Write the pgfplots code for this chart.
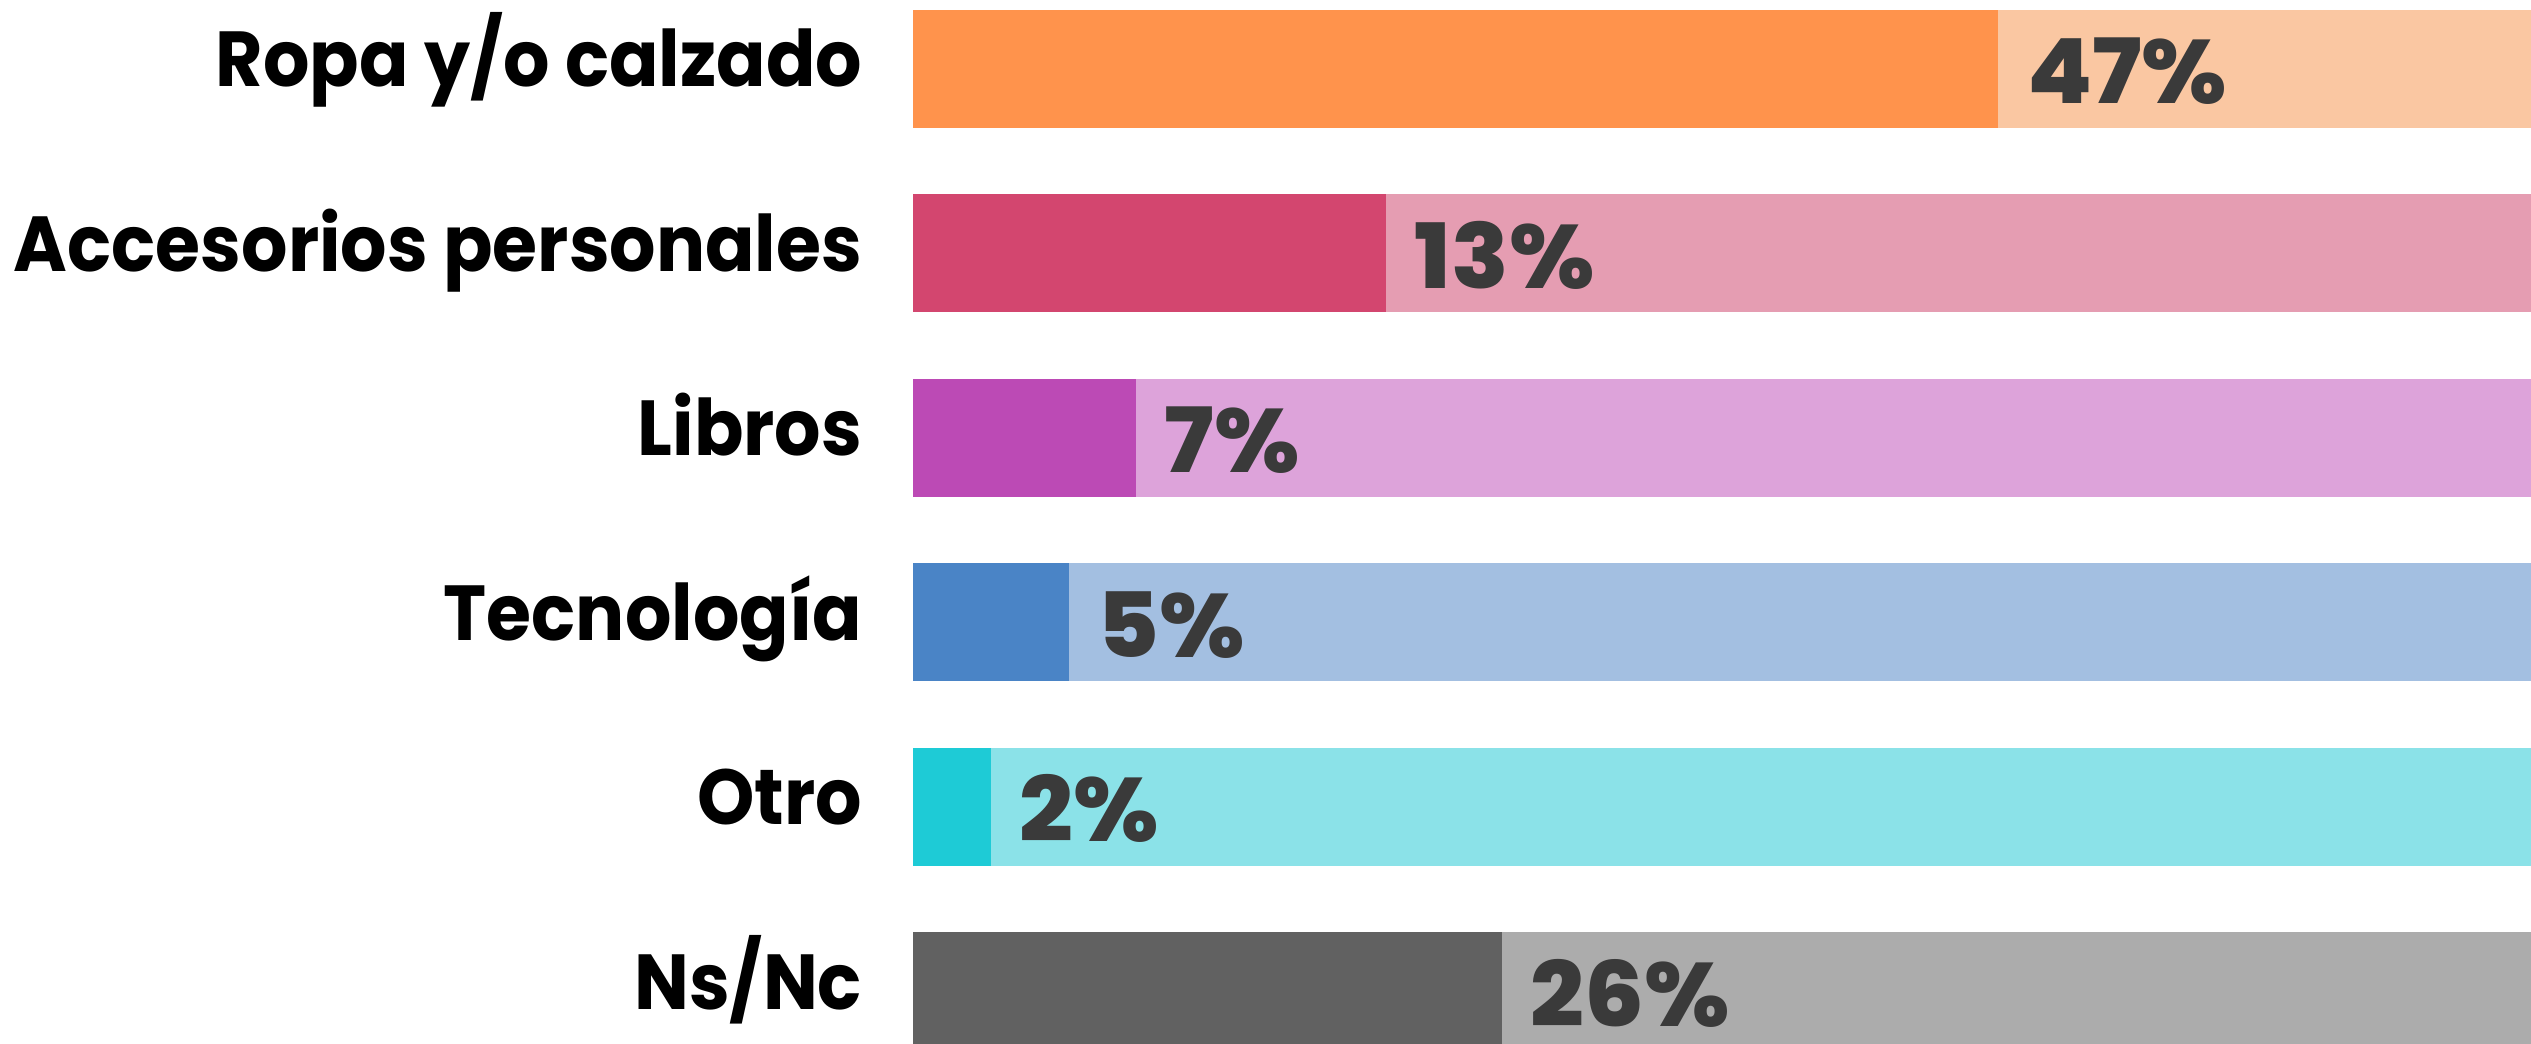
\documentclass[border=0pt]{standalone}
\usepackage{pgfplots}
\pgfplotsset{compat=1.18}
\usepackage{fontspec}
\setmainfont{Poppins}[BoldFont=* Bold, BoldFeatures={FakeStretch=0.935}]
\IfFontExistsTF{Poppins ExtraBold}{\newfontfamily\pctfont{Poppins ExtraBold}[FakeStretch=1.05]}{\newfontfamily\pctfont{Poppins Black}[FakeStretch=1.05]}
\definecolor{o1}{HTML}{FF934C}\definecolor{o1l}{HTML}{FAC7A2}
\definecolor{p1}{HTML}{D3466F}\definecolor{p1l}{HTML}{E59DB2}
\definecolor{v1}{HTML}{BC4AB5}\definecolor{v1l}{HTML}{DDA3DA}
\definecolor{b1}{HTML}{4A84C6}\definecolor{b1l}{HTML}{A3BFE1}
\definecolor{c1}{HTML}{1ECBD6}\definecolor{c1l}{HTML}{8BE2E8}
\definecolor{g1}{HTML}{616161}\definecolor{g1l}{HTML}{ACACAC}
\definecolor{txt}{HTML}{3A3A3A}
\pgfplotsset{
  bg/.style={xbar, bar shift=0pt, bar width=23.6pt, draw=none, fill=#1},
  fg/.style 2 args={xbar, bar shift=0pt, bar width=23.6pt, draw=none, fill=#1,
    nodes near coords={#2\%},
    every node near coord/.append style={anchor=base west, inner sep=0pt, xshift=5.6pt, yshift=-7.0pt,
      font=\pctfont\fontsize{18}{20}\selectfont, text=txt}},
}
\begin{document}
\begin{tikzpicture}
\begin{axis}[
  scale only axis, width=323.6pt, height=208.8pt,
  xmin=0, xmax=100, ymin=-0.374, ymax=5.287, y dir=reverse,
  axis line style={draw=none}, tick style={draw=none},
  xtick=\empty, ytick={0,1,2,3,4,5},
  yticklabels={Ropa y/o calzado, Accesorios personales, Libros, Tecnología, Otro, Ns/Nc},
  yticklabel style={font=\bfseries\fontsize{15.6}{18}\selectfont, anchor=base east, inner sep=0pt, xshift=-10pt, yshift=-3.6pt},
  clip=true,
]
% background (full) bars
\addplot[bg=o1l] coordinates {(100,0)};
\addplot[bg=p1l] coordinates {(100,1)};
\addplot[bg=v1l] coordinates {(100,2)};
\addplot[bg=b1l] coordinates {(100,3)};
\addplot[bg=c1l] coordinates {(100,4)};
\addplot[bg=g1l] coordinates {(100,5)};
% foreground bars (drawn lengths as in the reference), label = percentage
\addplot[fg={o1}{47}] coordinates {(67.06,0)};
\addplot[fg={p1}{13}] coordinates {(29.23,1)};
\addplot[fg={v1}{7}] coordinates {(13.78,2)};
\addplot[fg={b1}{5}] coordinates {(9.64,3)};
\addplot[fg={c1}{2}] coordinates {(4.82,4)};
\addplot[fg={g1}{26}] coordinates {(36.40,5)};
\coordinate (A) at (rel axis cs:0,0);
\coordinate (B) at (rel axis cs:1,1);
\end{axis}
\pgfresetboundingbox
\path[use as bounding box] (A) ++(-182.6pt,0) rectangle (B);
\end{tikzpicture}
\end{document}
